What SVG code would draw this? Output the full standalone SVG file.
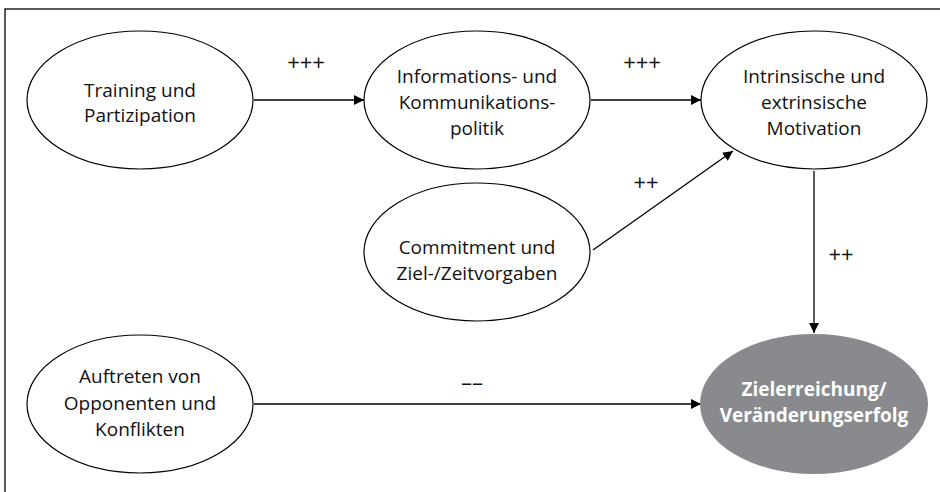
<svg xmlns="http://www.w3.org/2000/svg" width="940" height="492" viewBox="0 0 940 492">
<style>
  .node { fill: #fff; stroke: #000; stroke-width: 1.2; }
  .goal { fill: #898a8d; stroke: none; }
  .t { font-family: "Open Sans", "Noto Sans", sans-serif; font-size: 19px; fill: #111; text-anchor: middle; }
  .tw { font-family: "Open Sans", "Noto Sans", sans-serif; font-size: 19px; font-weight: bold; fill: #fff; text-anchor: middle; }
  .lbl { font-family: "Open Sans", "Noto Sans", sans-serif; font-size: 22px; fill: #111; text-anchor: middle; }
  .edge { stroke: #000; stroke-width: 1.3; fill: none; marker-end: url(#arr); }
</style>
<defs>
  <marker id="arr" viewBox="0 0 10 10" refX="10" refY="5" markerWidth="10" markerHeight="10" markerUnits="userSpaceOnUse" orient="auto">
    <path d="M0,0 L10,5 L0,10 z" fill="#000"/>
  </marker>
</defs>
<rect x="5" y="9" width="940" height="490" fill="none" stroke="#000" stroke-width="1.3"/>

<g id="connectors">
  <line class="edge" x1="254" y1="100" x2="364" y2="100"/>
  <line class="edge" x1="591" y1="100" x2="701" y2="100"/>
  <line class="edge" x1="593" y1="250" x2="733" y2="151"/>
  <line class="edge" x1="814" y1="171" x2="814" y2="333"/>
  <line class="edge" x1="254" y1="404" x2="701" y2="404"/>
  <text class="lbl" x="306" y="70">+++</text>
  <text class="lbl" x="642" y="70">+++</text>
  <text class="lbl" x="646" y="190">++</text>
  <text class="lbl" x="841" y="262">++</text>
  <text class="lbl" x="472" y="390">––</text>
</g>

<g id="training">
  <ellipse class="node" cx="140" cy="100" rx="113" ry="69"/>
  <text class="t" x="140" y="97">Training und</text>
  <text class="t" x="140" y="122">Partizipation</text>
</g>
<g id="information">
  <ellipse class="node" cx="477" cy="100" rx="113" ry="69"/>
  <text class="t" x="477" y="83">Informations- und</text>
  <text class="t" x="477" y="109">Kommunikations-</text>
  <text class="t" x="477" y="135">politik</text>
</g>
<g id="motivation">
  <ellipse class="node" cx="814" cy="100" rx="113" ry="69"/>
  <text class="t" x="814" y="83">Intrinsische und</text>
  <text class="t" x="814" y="109">extrinsische</text>
  <text class="t" x="814" y="135">Motivation</text>
</g>
<g id="commitment">
  <ellipse class="node" cx="477" cy="252" rx="113" ry="69"/>
  <text class="t" x="477" y="254">Commitment und</text>
  <text class="t" x="477" y="280">Ziel-/Zeitvorgaben</text>
</g>
<g id="opponenten">
  <ellipse class="node" cx="140" cy="404" rx="113" ry="69"/>
  <text class="t" x="140" y="383">Auftreten von</text>
  <text class="t" x="140" y="410">Opponenten und</text>
  <text class="t" x="140" y="436">Konflikten</text>
</g>
<g id="zielerreichung">
  <ellipse class="goal" cx="814" cy="404" rx="114" ry="70"/>
  <text class="tw" x="814" y="396">Zielerreichung/</text>
  <text class="tw" x="814" y="422">Veränderungserfolg</text>
</g>
</svg>
